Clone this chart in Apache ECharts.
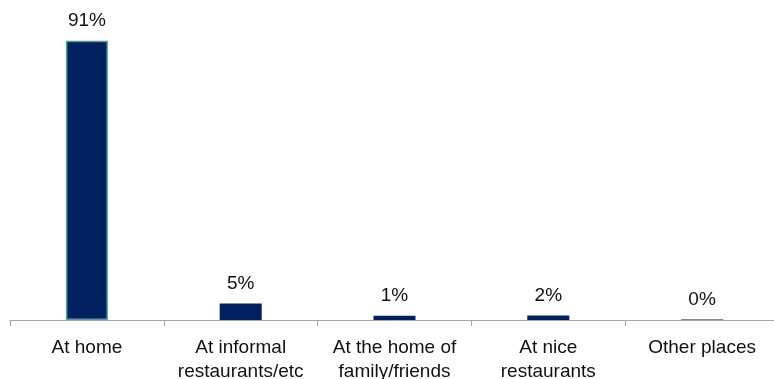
<!DOCTYPE html>
<html>
<head>
<meta charset="utf-8">
<script src="https://cdn.jsdelivr.net/npm/echarts@6/dist/echarts.min.js"></script>
<style>
  html, body { margin: 0; padding: 0; background: #fff; }
  #chart { width: 774px; height: 379px; }
</style>
</head>
<body>
<div id="chart"></div>
<script>
// where people eat (share of respondents, %)
var categories = ['At home', 'At informal\nrestaurants/etc', 'At the home of\nfamily/friends', 'At nice\nrestaurants', 'Other places']
var shares = [91, 5.4, 1.4, 1.5, 0.3]

var chart = echarts.init(document.getElementById('chart'))

chart.setOption({
  animation: false,
  grid: {
    left: 10,
    width: 769,
    top: 13,
    bottom: 59,
    containLabel: false,
    outerBoundsMode: 'none'
  },
  xAxis: {
    type: 'category',
    data: categories,
    axisLine: {
      lineStyle: { color: '#a6a6a6', width: 1 }
    },
    axisTick: {
      show: true,
      length: 6,
      lineStyle: { color: '#a6a6a6' }
    },
    axisLabel: {
      interval: 0,
      margin: 16,
      color: '#111',
      fontFamily: 'Liberation Sans',
      fontSize: 19,
      lineHeight: 24
    }
  },
  yAxis: {
    type: 'value',
    min: 0,
    max: 100,
    show: false,
    splitLine: { show: false }
  },
  series: [
    {
      type: 'bar',
      data: shares.map(function(v, i) {
        // first bar has a teal outline in the original
        if (i === 0) {
          return { value: v, itemStyle: { borderColor: '#45a39a', borderWidth: 1.5 } }
        }
        // the near-zero bar blends into the axis as a grey sliver
        if (i === shares.length - 1) {
          return { value: v, itemStyle: { color: '#7f8a96' } }
        }
        return v
      }),
      barWidth: 42,
      itemStyle: {
        color: '#002060'
      },
      label: {
        show: true,
        position: 'top',
        distance: 10,
        color: '#111',
        fontFamily: 'Liberation Sans',
        fontSize: 19,
        formatter: function(p) {
          return Math.round(p.value) + '%'
        }
      }
    }
  ]
})
</script>
</body>
</html>
